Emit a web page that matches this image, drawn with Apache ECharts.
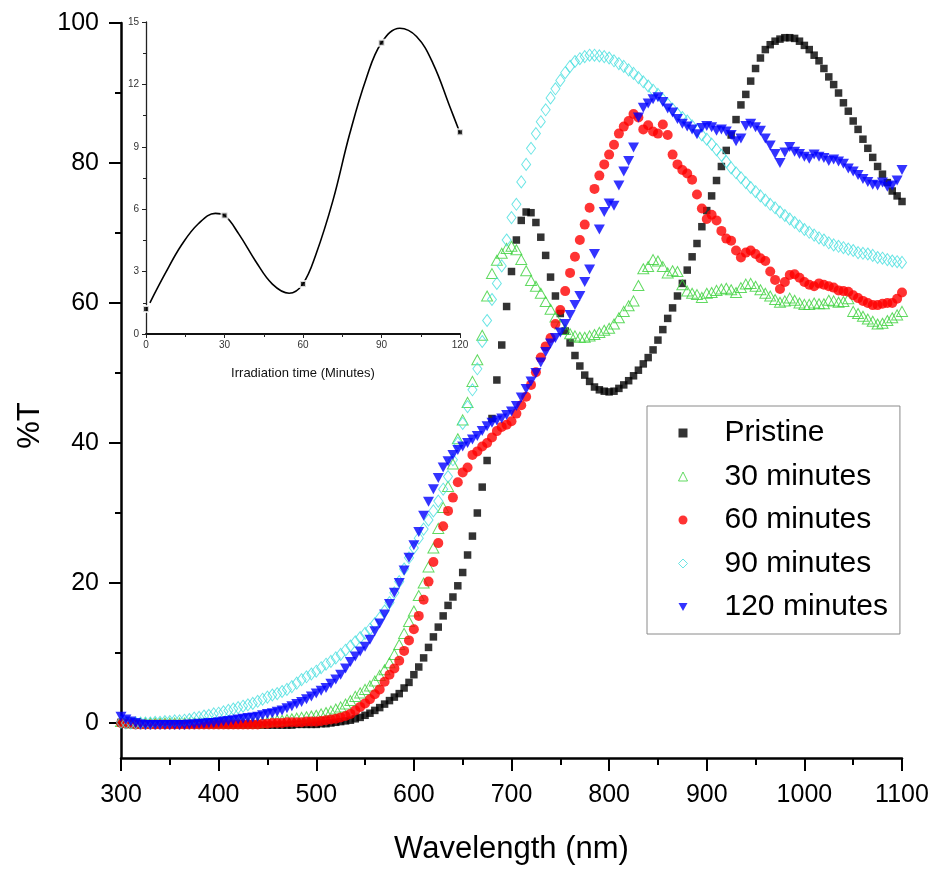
<!DOCTYPE html>
<html><head><meta charset="utf-8">
<script src="https://cdn.jsdelivr.net/npm/echarts@6/dist/echarts.min.js"></script>
<style>html,body{margin:0;padding:0;background:#fff}#c{width:932px;height:870px}</style>
</head><body><div id="c"></div>
<script>
// Wavelength grid (nm)
const wavelength = [
300,305,310,315,320,325,330,335,340,345,350,355,360,365,370,375,380,385,390,395,
400,405,410,415,420,425,430,435,440,445,450,455,460,465,470,475,480,485,490,495,
500,505,510,515,520,525,530,535,540,545,550,555,560,565,570,575,580,585,590,595,
600,605,610,615,620,625,630,635,640,645,650,655,660,665,670,675,680,685,690,695,
700,705,710,715,720,725,730,735,740,745,750,755,760,765,770,775,780,785,790,795,
800,805,810,815,820,825,830,835,840,845,850,855,860,865,870,875,880,885,890,895,
900,905,910,915,920,925,930,935,940,945,950,955,960,965,970,975,980,985,990,995,
1000,1005,1010,1015,1020,1025,1030,1035,1040,1045,1050,1055,1060,1065,1070,1075,1080,1085,1090,1095,
1100];

const pristine = [
0.1,0.0,0.0,-0.1,-0.1,-0.2,-0.2,-0.2,-0.2,-0.2,-0.2,-0.2,-0.2,-0.2,-0.2,-0.2,-0.2,-0.2,-0.2,-0.2,
-0.2,-0.2,-0.3,-0.3,-0.3,-0.3,-0.3,-0.3,-0.3,-0.3,-0.3,-0.3,-0.3,-0.3,-0.3,-0.3,-0.2,-0.2,-0.2,-0.2,
-0.2,-0.1,-0.1,0.0,0.1,0.2,0.3,0.4,0.6,0.8,1.1,1.4,1.8,2.2,2.7,3.2,3.7,4.2,5.0,5.8,
6.9,8.0,9.3,10.8,12.3,13.7,15.3,16.8,18.0,19.6,21.5,24.0,26.7,30.0,33.7,37.5,43.5,49.0,54.0,59.5,
64.5,69.0,71.8,73.0,72.9,71.5,69.4,66.8,63.7,61.0,58.5,56.0,54.3,52.5,51.0,49.7,48.8,48.0,47.6,47.4,
47.3,47.4,47.8,48.3,48.9,49.6,50.4,51.3,52.2,53.3,54.7,56.2,57.8,59.3,61.0,62.8,64.7,66.6,68.5,70.9,
73.2,75.3,77.5,79.5,81.8,84.0,86.2,88.3,89.8,91.7,93.5,95.0,96.2,96.9,97.4,97.7,97.9,97.9,97.8,97.4,
96.8,96.2,95.4,94.6,93.5,92.3,91.2,90.0,88.6,87.4,86.0,84.8,83.4,82.1,80.8,79.5,78.4,77.2,76.0,75.3,
74.5];

const min30 = [
0.2,0.1,0.0,0.0,0.0,0.0,0.0,0.0,0.0,0.0,0.0,0.0,0.0,0.0,0.0,0.0,0.0,0.0,0.0,0.0,
0.0,0.0,0.0,0.0,0.0,0.0,0.0,0.0,0.0,0.1,0.2,0.3,0.4,0.4,0.5,0.6,0.7,0.8,0.9,1.0,
1.1,1.3,1.5,1.7,2.0,2.3,2.7,3.2,3.8,4.3,4.8,5.3,6.0,6.8,7.6,8.6,9.8,11.2,12.8,14.5,
16.0,18.2,20.0,22.3,25.0,27.8,30.8,33.8,37.0,40.6,43.3,45.8,48.8,51.9,55.4,61.0,64.2,66.1,67.1,67.8,
68.1,67.6,66.2,64.6,63.2,62.4,61.4,60.2,59.1,58.0,57.0,56.2,55.6,55.3,55.1,55.1,55.3,55.5,55.8,56.1,
56.4,57.0,57.9,58.8,59.6,60.3,62.5,64.9,65.2,66.2,66.0,65.2,64.3,64.6,64.5,62.6,61.7,61.4,61.2,60.8,
61.4,61.5,61.8,62.0,62.1,61.9,61.5,62.2,62.7,62.8,62.4,61.9,61.4,61.0,60.5,60.1,60.3,60.7,60.4,60.0,
59.8,59.8,60.0,59.9,59.9,60.4,60.3,60.1,60.2,60.6,58.8,58.5,58.1,57.7,57.4,57.0,57.1,57.5,57.9,58.3,
58.8];

const min60 = [
0.0,-0.1,-0.1,-0.2,-0.2,-0.2,-0.2,-0.2,-0.2,-0.2,-0.2,-0.2,-0.2,-0.2,-0.2,-0.2,-0.2,-0.2,-0.2,-0.2,
-0.2,-0.2,-0.2,-0.2,-0.2,-0.2,-0.2,-0.2,-0.2,-0.1,-0.1,0.0,0.0,0.0,0.1,0.1,0.1,0.1,0.2,0.2,
0.2,0.3,0.4,0.5,0.6,0.8,1.0,1.3,1.8,2.3,2.8,3.4,4.1,4.8,5.9,6.9,7.8,8.9,10.3,11.8,
13.4,15.3,17.6,20.2,23.0,25.7,28.1,30.3,32.2,34.4,35.8,36.5,38.3,38.8,39.5,40.0,40.8,41.7,42.3,42.6,
43.1,44.2,45.4,46.6,48.3,50.1,52.2,53.8,55.0,57.0,59.0,61.7,64.3,66.6,69.0,71.2,73.6,76.3,78.2,79.8,
81.2,82.6,84.2,85.2,86.0,87.0,86.5,84.8,85.4,84.5,84.2,85.5,84.0,81.2,79.8,79.0,78.5,77.6,75.5,73.5,
72.0,72.6,71.8,70.3,69.2,68.9,67.5,66.5,67.2,67.5,67.0,66.4,66.0,64.5,63.3,62.0,63.0,64.0,64.1,63.6,
63.0,62.6,62.4,62.8,62.6,62.4,62.2,61.8,61.7,61.6,61.1,60.7,60.3,60.0,59.7,59.7,59.9,60.0,60.0,60.6,
61.5];

const min90 = [
0.1,0.0,0.0,0.0,0.0,0.0,0.0,0.1,0.1,0.2,0.2,0.3,0.3,0.4,0.5,0.7,0.8,1.0,1.1,1.3,
1.4,1.6,1.8,2.0,2.2,2.4,2.6,2.8,3.1,3.4,3.7,4.0,4.2,4.5,4.8,5.2,5.7,6.2,6.6,7.0,
7.4,7.9,8.4,8.8,9.3,9.8,10.4,11.0,11.6,12.2,12.8,13.4,14.2,15.0,16.0,17.2,18.6,20.2,22.0,23.6,
25.0,26.4,27.7,29.0,30.3,31.7,33.4,35.2,37.6,40.0,42.8,45.2,47.6,50.6,54.5,57.5,60.5,62.8,65.3,69.0,
72.2,74.1,77.3,79.8,82.1,84.2,85.9,87.6,89.3,90.6,91.8,92.9,93.8,94.5,94.9,95.2,95.4,95.4,95.3,95.2,
95.0,94.6,94.2,93.8,93.3,92.8,92.2,91.6,91.0,90.4,89.8,89.1,88.4,87.7,87.0,86.5,86.0,85.3,84.7,84.0,
83.4,82.7,81.9,81.1,80.2,79.3,78.6,77.9,77.2,76.5,75.9,75.3,74.7,74.1,73.6,73.0,72.5,72.0,71.5,71.0,
70.5,70.1,69.7,69.3,69.0,68.6,68.3,68.1,67.9,67.7,67.5,67.2,67.1,67.0,66.8,66.5,66.4,66.2,66.0,65.9,
65.8];

const min120 = [
0.9,0.5,0.2,0.0,-0.2,-0.3,-0.3,-0.3,-0.3,-0.3,-0.3,-0.3,-0.3,-0.3,-0.2,-0.2,-0.1,-0.1,0.0,0.0,
0.1,0.2,0.3,0.4,0.5,0.6,0.7,0.8,0.9,1.1,1.3,1.4,1.6,1.8,2.1,2.4,2.7,3.0,3.4,3.8,
4.2,4.6,5.0,5.6,6.2,6.9,7.8,8.7,9.5,10.2,10.9,11.9,13.1,14.2,15.5,17.0,18.6,20.0,21.8,23.6,
25.4,27.3,29.6,31.6,33.4,35.0,36.5,37.4,38.3,39.0,39.5,40.0,40.5,41.0,41.7,42.4,42.9,43.2,43.5,44.0,
44.5,45.3,46.5,47.7,48.8,50.0,51.5,53.0,54.2,55.0,55.8,57.0,58.3,59.7,61.0,63.0,64.8,67.0,70.5,73.0,
74.2,73.9,76.8,78.8,80.3,82.2,86.5,87.9,88.5,89.1,89.4,88.7,87.8,87.2,86.3,85.6,85.2,84.8,84.1,85.0,
85.3,85.1,84.6,84.8,84.5,84.0,83.1,83.5,85.3,85.6,85.1,84.6,83.5,82.5,81.3,80.0,81.5,82.3,81.6,81.3,
80.9,80.6,81.2,80.9,80.7,80.3,80.5,80.2,79.9,79.2,78.8,78.3,77.7,77.3,76.9,76.8,77.2,76.6,76.8,77.5,
79.0];

const insetTime = [0, 30, 60, 90, 120];
const insetValue = [1.2, 5.7, 2.4, 14.0, 9.7];
const insetCurveT = [1.5, 7.3, 13.7, 20, 26.5, 30, 35.5, 41.9, 48.3, 54.7, 59.9, 65, 71.4, 77.8, 84.2, 90, 97, 103.4, 109.7, 116.2, 120];
const insetCurveV = [1.5, 2.9, 4.3, 5.3, 5.8, 5.7, 4.8, 3.5, 2.4, 1.96, 2.4, 3.85, 6.4, 9.6, 12.3, 14.0, 14.7, 14.3, 13.0, 10.9, 9.66];

const seriesNames = ['Pristine', '30 minutes', '60 minutes', '90 minutes', '120 minutes'];
const yTicks = [0, 20, 40, 60, 80, 100];
const yMinorTicks = [10, 30, 50, 70, 90];

const pair = (xs, ys) => xs.map((x, i) => [x, ys[i]]);
const SANS = '"Liberation Sans", Arial, sans-serif';
const plain = v => String(v);

const chart = echarts.init(document.getElementById('c'), null, {renderer: 'canvas'});
const mainSeries = [
  {name: seriesNames[0], data: pair(wavelength, pristine), symbol: 'rect', symbolSize: 7.5,
   itemStyle: {color: '#000000'}},
  {name: seriesNames[1], data: pair(wavelength, min30), symbol: 'triangle', symbolSize: [11, 10],
   itemStyle: {color: 'rgba(255,255,255,0)', borderColor: '#3ad13a', borderWidth: 1}},
  {name: seriesNames[2], data: pair(wavelength, min60), symbol: 'circle', symbolSize: 10,
   itemStyle: {color: '#ff0000'}},
  {name: seriesNames[3], data: pair(wavelength, min90), symbol: 'diamond', symbolSize: [9, 12],
   itemStyle: {color: 'rgba(255,255,255,0)', borderColor: '#45dede', borderWidth: 1}},
  {name: seriesNames[4], data: pair(wavelength, min120), symbol: 'path://M0,0 L10,0 L5,9 Z', symbolSize: [11, 10],
   itemStyle: {color: '#0000ff'}}
].map(s => Object.assign({type: 'scatter', xAxisIndex: 0, yAxisIndex: 0}, s));

chart.setOption({
  animation: false,
  backgroundColor: '#ffffff',
  grid: [
    {left: 121, top: 23, width: 781, height: 735, containLabel: false, outerBoundsMode: 'none'},
    {left: 146, top: 22, width: 314, height: 312, containLabel: false, outerBoundsMode: 'none'}
  ],
  legend: {
    data: seriesNames.map(n => ({name: n, itemStyle: {borderWidth: 1}})),
    orient: 'vertical',
    left: 647, top: 406,
    itemWidth: 9, itemHeight: 9, itemGap: 13.5,
    padding: [12, 12, 12, 31],
    borderColor: '#8a8a8a', borderWidth: 1,
    textStyle: {fontFamily: SANS, fontSize: 30, color: '#000', lineHeight: 30, padding: [0, 0, 0, 32]},
    selectedMode: false
  },
  xAxis: [
    {gridIndex: 0, type: 'value', min: 300, max: 1100, interval: 100,
     axisLine: {show: true, onZero: false, lineStyle: {color: '#000', width: 2.5}},
     axisTick: {show: true, length: 13, lineStyle: {color: '#000', width: 2}},
     minorTick: {show: true, splitNumber: 2, length: 7, lineStyle: {color: '#000', width: 2}},
     splitLine: {show: false}, minorSplitLine: {show: false},
     axisLabel: {fontFamily: SANS, fontSize: 25, color: '#000', margin: 25, formatter: plain},
     name: 'Wavelength (nm)', nameLocation: 'middle', nameGap: 76,
     nameTextStyle: {fontFamily: SANS, fontSize: 31, color: '#000'}},
    {gridIndex: 1, type: 'value', min: 0, max: 120, interval: 30,
     axisLine: {show: true, onZero: false, lineStyle: {color: '#111', width: 2}},
     axisTick: {show: true, length: 4, lineStyle: {color: '#222', width: 1}},
     minorTick: {show: true, splitNumber: 2, length: 3, lineStyle: {color: '#222', width: 1}},
     splitLine: {show: false},
     axisLabel: {fontFamily: SANS, fontSize: 10, color: '#333', margin: 6, formatter: plain},
     name: 'Irradiation time (Minutes)', nameLocation: 'middle', nameGap: 33,
     nameTextStyle: {fontFamily: SANS, fontSize: 13, color: '#111'}}
  ],
  yAxis: [
    {gridIndex: 0, type: 'value', min: -5, max: 100, position: 'left',
     axisLine: {show: true, onZero: false, lineStyle: {color: '#000', width: 2.5}},
     axisTick: {show: true, length: 12, customValues: yTicks, lineStyle: {color: '#000', width: 2}},
     axisLabel: {fontFamily: SANS, fontSize: 25, color: '#000', margin: 22, customValues: yTicks, formatter: plain},
     splitLine: {show: false},
     name: '%T', nameLocation: 'middle', nameGap: 70, nameRotate: 90,
     nameTextStyle: {fontFamily: SANS, fontSize: 31, color: '#000', padding: [0, 70, 0, 0]}},
    {gridIndex: 0, type: 'value', min: -5, max: 100, position: 'left',
     axisLine: {show: false, onZero: false},
     axisTick: {show: true, length: 6, customValues: yMinorTicks, lineStyle: {color: '#000', width: 2}},
     axisLabel: {show: false},
     splitLine: {show: false}},
    {gridIndex: 1, type: 'value', min: 0, max: 15, interval: 3,
     axisLine: {show: true, onZero: false, lineStyle: {color: '#222', width: 1.3}},
     axisTick: {show: true, length: 4, lineStyle: {color: '#222', width: 1}},
     minorTick: {show: true, splitNumber: 2, length: 3, lineStyle: {color: '#222', width: 1}},
     splitLine: {show: false},
     axisLabel: {fontFamily: SANS, fontSize: 10, color: '#333', margin: 7, formatter: plain}}
  ],
  series: mainSeries.concat([
    {type: 'line', name: 'inset-fit', xAxisIndex: 1, yAxisIndex: 2, data: pair(insetCurveT, insetCurveV),
     smooth: 0.4, showSymbol: false, lineStyle: {color: '#000', width: 1.6}, z: 3},
    {type: 'scatter', name: 'inset-points', xAxisIndex: 1, yAxisIndex: 2, data: pair(insetTime, insetValue),
     symbol: 'rect', symbolSize: 6, itemStyle: {color: '#000', borderColor: '#fff', borderWidth: 2}, z: 4}
  ])
});
</script></body></html>
